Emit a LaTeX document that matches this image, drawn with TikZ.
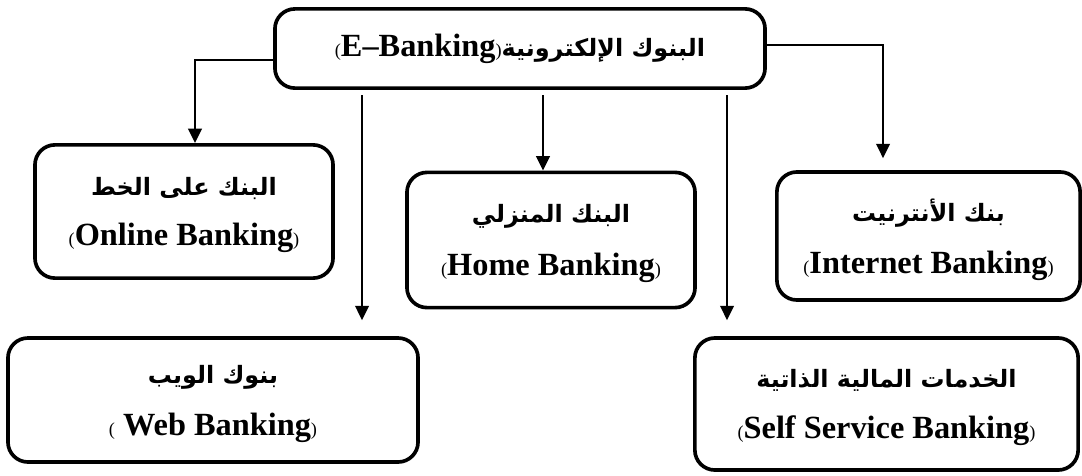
\documentclass[tikz,border=0pt]{standalone}
\usepackage{fontspec}
\setmainfont{Liberation Serif}
\newfontfamily\arabicfont[Script=Arabic]{DejaVu Sans}
\TeXXeTstate=1
\usetikzlibrary{positioning,arrows.meta}

% text macros
\newcommand\artxt[1]{{\arabicfont\bfseries\fontsize{17}{20}\selectfont\beginR #1\endR}}
\newcommand\latxt[1]{{\bfseries\fontsize{23}{26}\selectfont #1}}
\newcommand\sparen[1]{{\mdseries\fontsize{13}{13}\selectfont #1}}

\begin{document}
\begin{tikzpicture}[
x=0.025cm, y=-0.025cm,
box/.style={draw, line width=2.6pt, rounded corners=0.5cm, align=center, inner sep=0pt},
link/.style={line width=1.6pt},
arr/.style={link, -{Triangle[length=0.36cm, width=0.34cm]}}
]
    \useasboundingbox (0,0) rectangle (1082,475);

    % Boxes
    \node[box, minimum width=12.25cm, minimum height=1.98cm] (ebank) at (520,48.5)
        {\latxt{\sparen{(}E--Banking\sparen{)}}\artxt{البنوك الإلكترونية}};

    \node[box, minimum width=7.45cm, minimum height=3.33cm, text depth=-0.3cm] (online) at (184,211.5)
        {\artxt{البنك على الخط}\\[16pt]\latxt{\sparen{(}Online Banking\sparen{)}}};
    \node[box, minimum width=7.2cm, minimum height=3.38cm, text depth=-0.3cm] (home) at (551,240)
        {\artxt{البنك المنزلي}\\[16pt]\latxt{\sparen{(}Home Banking\sparen{)}}};
    \node[box, minimum width=7.58cm, minimum height=3.2cm, text depth=-0.3cm] (internet) at (928.5,236)
        {\artxt{بنك الأنترنيت}\\[16pt]\latxt{\sparen{(}Internet Banking\sparen{)}}};
    \node[box, minimum width=10.25cm, minimum height=3.1cm, text depth=-0.3cm] (web) at (213,400)
        {\artxt{بنوك الويب}\\[16pt]\latxt{\sparen{(} Web Banking\sparen{)}}};
    \node[box, minimum width=9.58cm, minimum height=3.3cm, text depth=-0.3cm] (self) at (886.5,404)
        {\artxt{الخدمات المالية الذاتية}\\[16pt]\latxt{\sparen{(}Self Service Banking\sparen{)}}};

    % Junction points
    \coordinate (lj) at (195,60);
    \coordinate (rj) at (883,45);
    \coordinate (wx) at (362,93);
    \coordinate (hx) at (543,93);
    \coordinate (sx) at (727,93);

    % Connectors
    \draw[arr] (ebank.west |- lj) -| (online.north -| lj);
    \draw[arr, shorten >=0.3cm] (ebank.east |- rj) -| (internet.north -| rj);
    \draw[arr, shorten <=0.13cm, shorten >=0.4cm] (ebank.south -| wx) -- (web.north -| wx);
    \draw[arr, shorten <=0.13cm] (ebank.south -| hx) -- (home.north -| hx);
    \draw[arr, shorten <=0.13cm, shorten >=0.4cm] (ebank.south -| sx) -- (self.north -| sx);

\end{tikzpicture}
\end{document}
